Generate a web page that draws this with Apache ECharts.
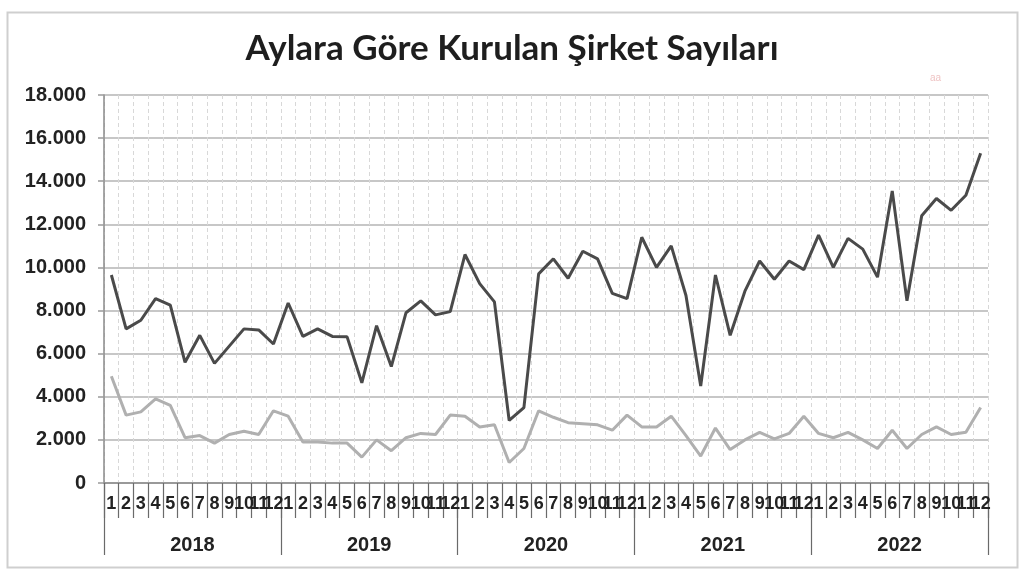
<!DOCTYPE html>
<html>
<head>
<meta charset="utf-8">
<script src="https://cdn.jsdelivr.net/npm/echarts@6/dist/echarts.min.js"></script>
<style>html,body{margin:0;padding:0;background:#fff}#c{width:1024px;height:576px}</style>
</head>
<body>
<div id="c"></div>
<script>
const titleText = 'Aylara Göre Kurulan Şirket Sayıları';
const years = ['2018', '2019', '2020', '2021', '2022'];
const monthLabels = ['1','2','3','4','5','6','7','8','9','10','11','12'];
const yTicks = { min: 0, max: 18000, interval: 2000 };

const seriesTotal = [
  9650, 7150, 7550, 8550, 8250, 5600, 6850, 5550, 6350, 7150, 7100, 6450,
  8350, 6800, 7150, 6800, 6780, 4650, 7300, 5400, 7900, 8450, 7800, 7950,
  10600, 9250, 8400, 2900, 3500, 9700, 10400, 9500, 10750, 10400, 8800, 8550,
  11400, 10000, 11000, 8700, 4500, 9650, 6850, 8900, 10300, 9450, 10300, 9900,
  11500, 10000, 11350, 10850, 9550, 13550, 8450, 12400, 13200, 12650, 13350, 15300
];
const seriesOther = [
  4950, 3150, 3300, 3900, 3600, 2100, 2200, 1850, 2250, 2400, 2250, 3350,
  3100, 1900, 1900, 1850, 1850, 1200, 2000, 1500, 2100, 2300, 2250, 3150,
  3100, 2600, 2700, 950, 1600, 3350, 3050, 2800, 2750, 2700, 2450, 3150,
  2600, 2600, 3100, 2200, 1250, 2550, 1550, 2000, 2350, 2050, 2300, 3100,
  2300, 2100, 2350, 2000, 1600, 2450, 1600, 2250, 2600, 2250, 2350, 3500
];

const categories = [];
years.forEach(y => monthLabels.forEach(m => categories.push(y + '-' + m)));

const chart = echarts.init(document.getElementById('c'), null, { renderer: 'canvas' });
const labelFont = '"Liberation Sans", Arial, sans-serif';

chart.setOption({
  animation: false,
  backgroundColor: '#ffffff',
  title: {
    text: titleText,
    left: 'center',
    top: 26,
    textStyle: { fontFamily: 'Lato, "Open Sans", sans-serif', fontWeight: 'bold', fontSize: 35, color: '#1e1e1e' }
  },
  graphic: [
    { type: 'rect', left: 5, top: 10, shape: { width: 1010, height: 555 }, style: { fill: 'none', stroke: '#cfcfcf', lineWidth: 2 }, z: -1 },
    { type: 'text', left: 930, top: 73, style: { text: 'aa', fill: '#efc4c4', font: '10px sans-serif' } }
  ],
  grid: { left: 104, right: 36, top: 95, bottom: 93 },
  xAxis: [
    {
      type: 'category',
      data: categories,
      boundaryGap: true,
      position: 'bottom',
      axisLine: { show: true, lineStyle: { color: '#8a8a8a', width: 1.5 } },
      axisTick: { show: true, interval: 0, length: 35, lineStyle: { color: '#6a6a6a', width: 1.2 } },
      axisLabel: {
        interval: 0, margin: 12, fontSize: 18, fontWeight: 'bold', color: '#222', fontFamily: labelFont,
        formatter: v => v.split('-')[1]
      },
      splitLine: { show: true, interval: 0, lineStyle: { color: '#d8d8d8', type: [4, 3], width: 1 } }
    },
    {
      type: 'category',
      data: years,
      boundaryGap: true,
      position: 'bottom',
      axisLine: { show: false },
      axisTick: { show: true, interval: 0, length: 72, lineStyle: { color: '#6a6a6a', width: 1.2 } },
      axisLabel: { interval: 0, margin: 52, fontSize: 20, fontWeight: 'bold', color: '#222', fontFamily: labelFont },
      splitLine: { show: false }
    }
  ],
  yAxis: {
    type: 'value',
    min: yTicks.min, max: yTicks.max, interval: yTicks.interval,
    axisLine: { show: true, lineStyle: { color: '#8a8a8a', width: 1.5 } },
    axisTick: { show: true, length: 6, lineStyle: { color: '#9a9a9a', width: 1.5 } },
    axisLabel: {
      margin: 18, fontSize: 20, fontWeight: 'bold', color: '#222', fontFamily: labelFont,
      formatter: v => v === 0 ? '0' : String(v).replace(/\B(?=(\d{3})+(?!\d))/g, '.')
    },
    splitLine: { show: true, lineStyle: { color: '#b4b4b4', width: 1.5 } }
  },
  series: [
    {
      name: 'Toplam', type: 'line', xAxisIndex: 0, data: seriesTotal,
      symbol: 'none', lineStyle: { color: '#4a4a4a', width: 3 }, z: 3
    },
    {
      name: 'Diğer', type: 'line', xAxisIndex: 0, data: seriesOther,
      symbol: 'none', lineStyle: { color: '#b0b0b0', width: 3 }, z: 2
    }
  ]
});
</script>
</body>
</html>
